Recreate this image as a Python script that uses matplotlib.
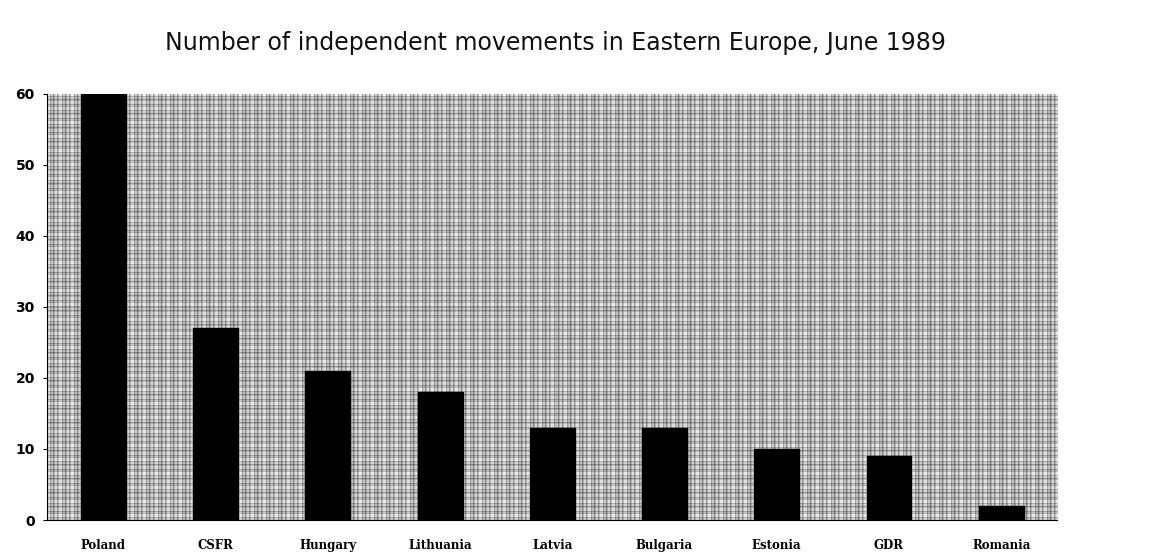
import numpy as np
import matplotlib
matplotlib.use('Agg')
import matplotlib.pyplot as plt

countries = ['Poland', 'CSFR', 'Hungary', 'Lithuania', 'Latvia',
             'Bulgaria', 'Estonia', 'GDR', 'Romania']
movements = [60, 27, 21, 18, 13, 13, 10, 9, 2]
yticks = [0, 10, 20, 30, 40, 50, 60]

fig = plt.figure(figsize=(11.53, 5.55), dpi=100)
ax = fig.add_axes([0.041, 0.063, 0.876, 0.768])

# plaid-like grey halftone background (styling only)
w, h = 1010, 426
col_prof = np.array([0.97, 0.97, 0.97, 0.68, 0.84, 0.84, 0.6, 0.76, 0.93, 0.93, 0.64, 0.8])
row_prof = np.array([0.95, 0.95, 0.95, 0.7, 0.86, 0.86, 0.62, 0.78, 0.9, 0.9, 0.9, 0.66, 0.82, 0.74])
cols = col_prof[np.arange(w) % len(col_prof)]
rows = row_prof[np.arange(h) % len(row_prof)]
tex = cols[None, :] * rows[:, None]
ax.imshow(tex, cmap='gray', vmin=0, vmax=1, extent=[-0.5, 8.5, 0, 60],
          aspect='auto', interpolation='nearest', zorder=0)

x = np.arange(len(countries))
ax.bar(x, movements, width=0.4, color='black', edgecolor='black', zorder=2)

ax.set_xlim(-0.5, 8.5)
ax.set_ylim(0, 60)
ax.set_yticks(yticks)
ax.set_xticks(x)
ax.set_xticklabels(countries, fontsize=8.5, fontweight='bold', family='DejaVu Serif')
ax.tick_params(axis='x', length=0, pad=14)
ax.tick_params(axis='y', length=3, pad=6, labelsize=10)
for lbl in ax.get_yticklabels():
    lbl.set_fontweight('bold')

for s in ['top', 'right']:
    ax.spines[s].set_visible(False)
ax.spines['left'].set_linewidth(0.8)
ax.spines['bottom'].set_linewidth(0.8)

fig.text(0.482, 0.922, 'Number of independent movements in Eastern Europe, June 1989',
         ha='center', va='center', fontsize=17, color='#111111', family='DejaVu Sans')

fig.savefig('out.png', dpi=100)
